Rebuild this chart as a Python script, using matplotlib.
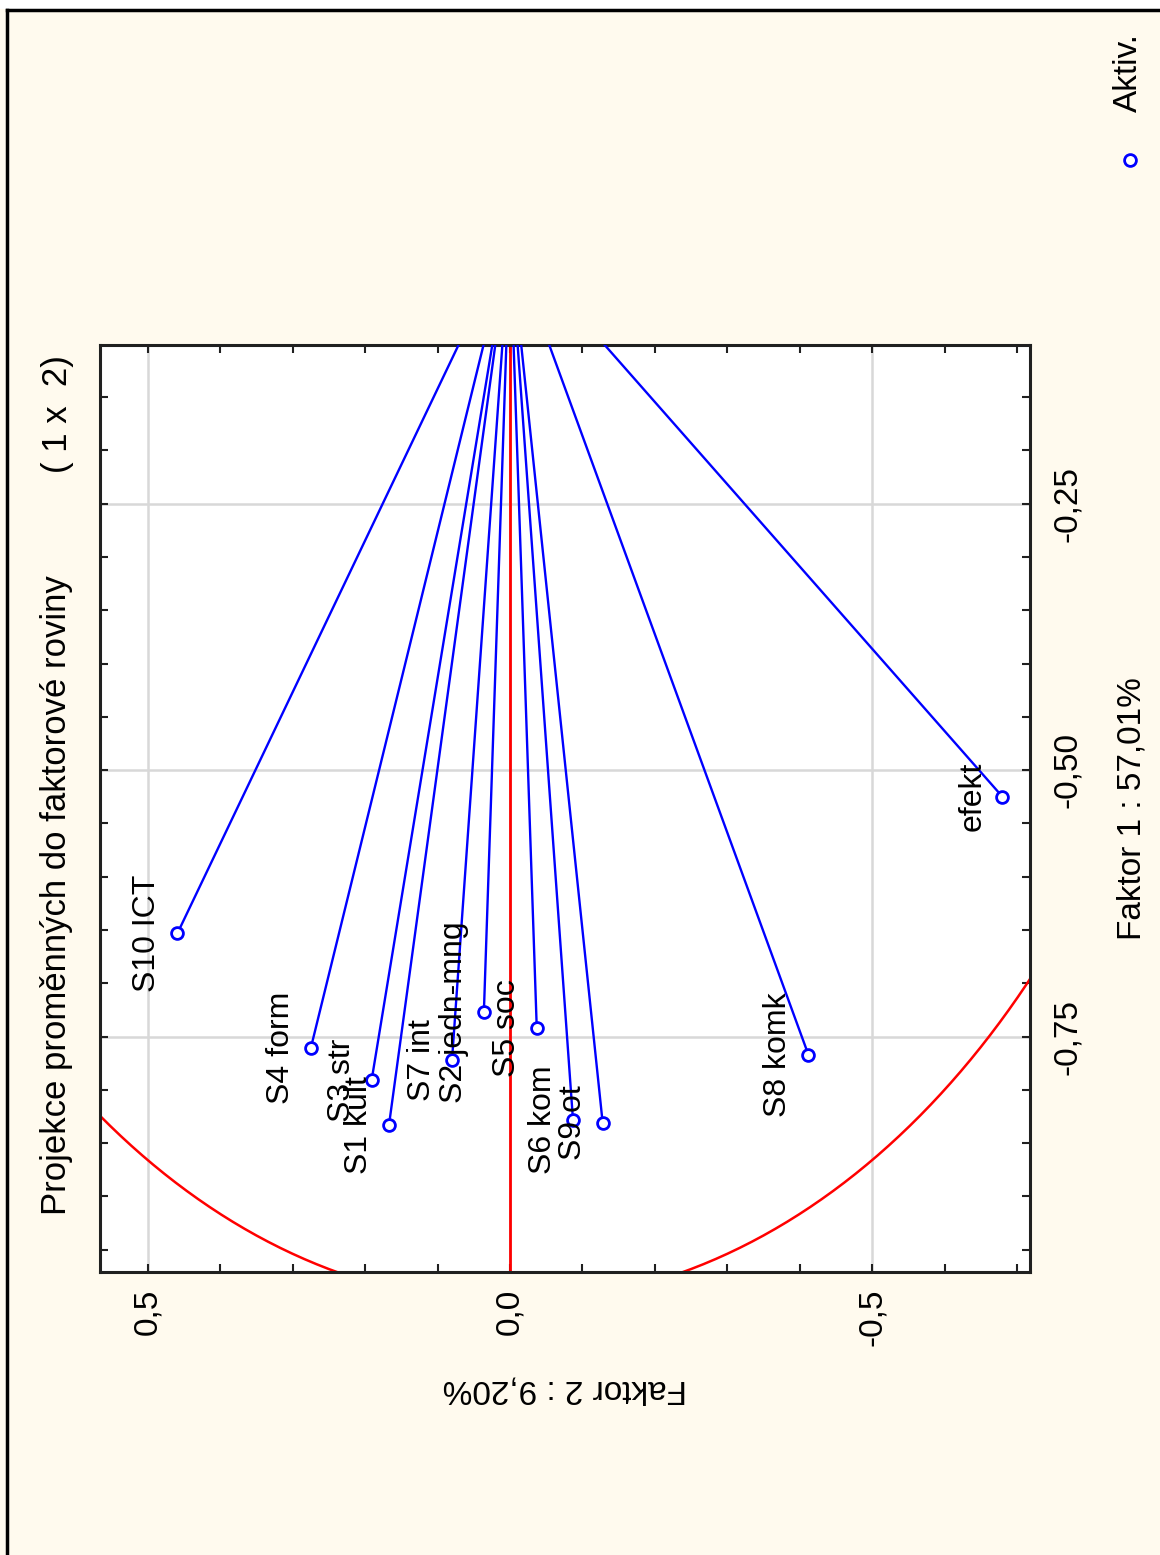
import numpy as np
import matplotlib
matplotlib.use("Agg")
import matplotlib.pyplot as plt
from matplotlib.lines import Line2D
from matplotlib.patches import Rectangle

# ---- data (factor loadings) ----
labels = ["S10 ICT", "S4 form", "S3 str", "S1 kult", "S7 int", "S2 jedn-mng",
          "S5 soc", "S6 kom", "S9 ot", "S8 komk", "efekt"]
faktor2 = [0.459, 0.275, 0.191, 0.167, 0.080, 0.036, -0.037, -0.087, -0.128, -0.412, -0.680]
faktor1 = [-0.653, -0.761, -0.791, -0.833, -0.772, -0.727, -0.742, -0.828, -0.831, -0.767, -0.525]

f2_ticks = [0.5, 0.0, -0.5]
f2_ticklabels = ["0,5", "0,0", "-0,5"]
f1_ticks = [-0.25, -0.50, -0.75]
f1_ticklabels = ["-0,25", "-0,50", "-0,75"]

title_main = "Projekce proměnných do faktorové roviny"
title_suffix = "( 1 x  2)"
xlabel = "Faktor 2 : 9,20%"
ylabel = "Faktor 1 : 57,01%"
legend_label = "Aktiv."

plt.rcParams['font.family'] = ['Liberation Sans', 'DejaVu Sans']

W, H = 1160, 1555
fig = plt.figure(figsize=(W / 100, H / 100), dpi=100)
cream = '#fffaee'
fig.patch.set_facecolor(cream)

def fx(px):
    return px / W

def fy(py):
    return 1 - py / H

# top white strip and page border
fig.add_artist(Rectangle((0, fy(9)), 1, 1 - fy(9), transform=fig.transFigure,
                         facecolor='white', edgecolor='none', zorder=0))
fig.add_artist(Line2D([fx(7), 1], [fy(10), fy(10)], transform=fig.transFigure,
                      color='black', lw=2.5))
fig.add_artist(Line2D([fx(7), fx(7)], [fy(10), 0], transform=fig.transFigure,
                      color='black', lw=2.5))

ax = fig.add_axes([fx(100), fy(1272), fx(1030) - fx(100), fy(345) - fy(1272)])
ax.set_facecolor('white')

ax.set_xlim(0.566, -0.718)
ax.set_ylim(-0.971, -0.101)

# grid
for v in f2_ticks:
    ax.axvline(v, color='#d8d8d8', lw=1.8, zorder=1)
for v in f1_ticks:
    ax.axhline(v, color='#d8d8d8', lw=1.8, zorder=1)

# unit circle and zero line
t = np.linspace(0, 2 * np.pi, 721)
ax.plot(np.cos(t), np.sin(t), color='#ff0000', lw=1.8, zorder=2)
ax.axvline(0.0, color='#ff0000', lw=2.0, zorder=2)

# vectors
for x2, y1 in zip(faktor2, faktor1):
    ax.plot([0, x2], [0, y1], color='#0000ff', lw=1.7, zorder=3)
ax.plot(faktor2, faktor1, 'o', mfc='white', mec='#0000ff', mew=2.0, ms=8.5, ls='none', zorder=4)

for lab, x2, y1 in zip(labels, faktor2, faktor1):
    ax.annotate(lab, (x2, y1), xytext=(-30, 0), textcoords='offset pixels',
                rotation=90, ha='center', va='center', fontsize=23, color='black', zorder=5)

# ticks
ax.set_xticks(f2_ticks)
ax.set_xticklabels(f2_ticklabels)
ax.set_xticks(np.arange(-0.7, 0.51, 0.1), minor=True)
ax.set_yticks(f1_ticks)
ax.set_yticklabels(f1_ticklabels)
ax.set_yticks(np.arange(-0.95, -0.1, 0.05), minor=True)
ax.yaxis.tick_right()
ax.tick_params(which='both', direction='in', top=True, bottom=True, left=True, right=True,
               length=6, width=1.5, color='#202020')
ax.tick_params(axis='x', labelrotation=90, labelsize=24, pad=12)
ax.tick_params(axis='y', labelrotation=90, labelsize=24, pad=16, labelleft=False, labelright=True)
for lbl in ax.get_yticklabels():
    lbl.set_va('center')
for s in ax.spines.values():
    s.set_color('#202020')
    s.set_linewidth(2.2)

ax.set_xlabel(xlabel, rotation=180, fontsize=24, labelpad=20)
ax.yaxis.set_label_position('right')
ax.set_ylabel(ylabel, rotation=90, fontsize=24, labelpad=24)

# title
fig.text(fx(57), fy(1215), title_main, rotation=90, ha='center', va='bottom', fontsize=25)
fig.text(fx(57), fy(355), title_suffix, rotation=90, ha='center', va='top', fontsize=25)

# legend
fig.add_artist(Line2D([fx(1130)], [fy(160)], transform=fig.transFigure, marker='o',
                      mfc='white', mec='#0000ff', mew=2.0, ms=8.5, ls='none'))
fig.text(fx(1128), fy(33), legend_label, rotation=90, ha='center', va='top', fontsize=24)

fig.savefig('out.png', dpi=100, facecolor=fig.get_facecolor())
